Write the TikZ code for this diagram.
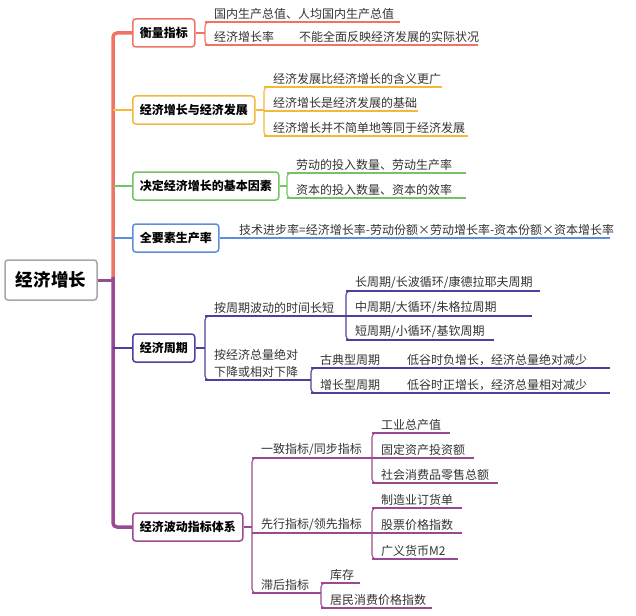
\documentclass[tikz,border=0pt]{standalone}
\usepackage{fontspec}
\setmainfont{Noto Sans CJK SC}
\begin{document}
\begin{tikzpicture}[x=1pt,y=-1pt,
  leaf/.style={anchor=south west,inner sep=1pt,font=\fontsize{12}{17}\selectfont,text=black!80},
  br/.style={draw,rounded corners=3pt,line width=1.5pt,fill=white,font=\bfseries\fontsize{12}{13}\selectfont,inner xsep=7pt,minimum height=28pt},
  ln/.style={line width=1.1pt},
  brk/.style={line width=1.1pt,rounded corners=4pt}]
\definecolor{cr}{HTML}{F07464}\definecolor{cy}{HTML}{F2B93B}\definecolor{cg}{HTML}{74C365}
\definecolor{cb}{HTML}{5D8FD8}\definecolor{ci}{HTML}{4F3F9E}\definecolor{cp}{HTML}{9A4A90}
\useasboundingbox (0,0) rectangle (636,615);
\newcommand{\lf}[6][]{\node[leaf,#1] (#2) at (#3+8,#5-1) {#6};\draw[ln] (#3,#5) -- (#4,#5);}
% trunk
\draw[cr,line width=3.5pt,rounded corners=4pt] (132,33) -- (113,33) -- (113,279);
\draw[cp,line width=3.5pt,rounded corners=4pt] (113,277) -- (113,527) -- (132,527);
\draw[cy,ln] (113,110) -- (132,110);
\draw[cg,ln] (113,186) -- (132,186);
\draw[cb,ln] (113,238) -- (132,238);
\draw[ci,ln] (113,348) -- (132,348);
\node[draw=black!35,line width=1.5pt,rounded corners=3pt,fill=white,font=\bfseries\fontsize{17.5}{19}\selectfont,minimum width=92pt,minimum height=40pt] (root) at (51,280) {经济增长};
\draw[cp,line width=3pt] (root.east) -- (113,280);
% branch 1
\node[br,draw=cr,anchor=west] (b1) at (132,33) {衡量指标};
\begin{scope}[cr]
\draw[ln] (b1.east) -- (205,33);
\draw[brk] (213,22) -- (205,22) -- (205,45) -- (213,45);
\lf{a1}{205}{400}{22}{国内生产总值、人均国内生产总值}
\lf{a2}{205}{290}{45}{经济增长率}
\lf{a3}{290}{478}{45}{不能全面反映经济发展的实际状况}
\end{scope}
% branch 2
\node[br,draw=cy,anchor=west] (b2) at (132,110) {经济增长与经济发展};
\begin{scope}[cy]
\draw[ln] (b2.east) -- (264,110);
\draw[brk] (272,87) -- (264,87) -- (264,136) -- (272,136);
\lf{c1}{264}{442}{87}{经济发展比经济增长的含义更广}
\lf{c2}{264}{418}{111}{经济增长是经济发展的基础}
\lf{c3}{264}{468}{136}{经济增长并不简单地等同于经济发展}
\end{scope}
% branch 3
\node[br,draw=cg,anchor=west] (b3) at (132,186) {决定经济增长的基本因素};
\begin{scope}[cg]
\draw[ln] (b3.east) -- (287,186);
\draw[brk] (295,173) -- (287,173) -- (287,198) -- (295,198);
\lf{d1}{287}{466}{173}{劳动的投入数量、劳动生产率}
\lf{d2}{287}{466}{198}{资本的投入数量、资本的效率}
\end{scope}
% branch 4
\node[br,draw=cb,anchor=west] (b4) at (132,238) {全要素生产率};
\begin{scope}[cb]
\draw[ln] (b4.east) -- (230,238);
\lf{e1}{230}{610}{238}{技术进步率=经济增长率-劳动份额×劳动增长率-资本份额×资本增长率}
\end{scope}
% branch 5
\node[br,draw=ci,anchor=west] (b5) at (132,348) {经济周期};
\begin{scope}[ci]
\draw[ln] (b5.east) -- (205,348);
\draw[brk] (213,316) -- (205,316) -- (205,380) -- (213,380);
\lf{f1}{205}{346}{316}{按周期波动的时间长短}
\node[leaf,align=left] (f2) at (213,379) {按经济总量绝对\\下降或相对下降};
\draw[ln] (205,380) -- (311,380);
\draw[brk] (354,291) -- (346,291) -- (346,340) -- (354,340);
\lf{g1}{346}{540}{291}{长周期/长波循环/康德拉耶夫周期}
\lf{g2}{346}{532}{316}{中周期/大循环/朱格拉周期}
\lf{g3}{346}{494}{340}{短周期/小循环/基钦周期}
\draw[brk] (319,368) -- (311,368) -- (311,393) -- (319,393);
\lf{h1}{311}{398}{368}{古典型周期}
\lf{h2}{311}{398}{393}{增长型周期}
\lf{h3}{398}{610}{368}{低谷时负增长，经济总量绝对减少}
\lf{h4}{398}{610}{393}{低谷时正增长，经济总量相对减少}
\end{scope}
% branch 6
\node[br,draw=cp,anchor=west] (b6) at (132,527) {经济波动指标体系};
\begin{scope}[cp]
\draw[ln] (b6.east) -- (252,527);
\draw[brk] (260,458) -- (252,458) -- (252,593) -- (260,593);
\lf{i1}{252}{372}{458}{一致指标/同步指标}
\lf{i2}{252}{372}{533}{先行指标/领先指标}
\lf{i3}{252}{321}{593}{滞后指标}
\draw[brk] (380,433) -- (372,433) -- (372,483) -- (380,483);
\lf{j1}{372}{450}{433}{工业总产值}
\lf{j2}{372}{474}{458}{固定资产投资额}
\lf{j3}{372}{498}{483}{社会消费品零售总额}
\draw[brk] (380,508) -- (372,508) -- (372,559) -- (380,559);
\lf{k1}{372}{462}{508}{制造业订货单}
\lf{k2}{372}{462}{533}{股票价格指数}
\lf{k3}{372}{458}{559}{广义货币M2}
\draw[brk] (329,583) -- (321,583) -- (321,608) -- (329,608);
\lf{l1}{321}{360}{583}{库存}
\lf{l2}{321}{432}{608}{居民消费价格指数}
\end{scope}
\end{tikzpicture}
\end{document}
